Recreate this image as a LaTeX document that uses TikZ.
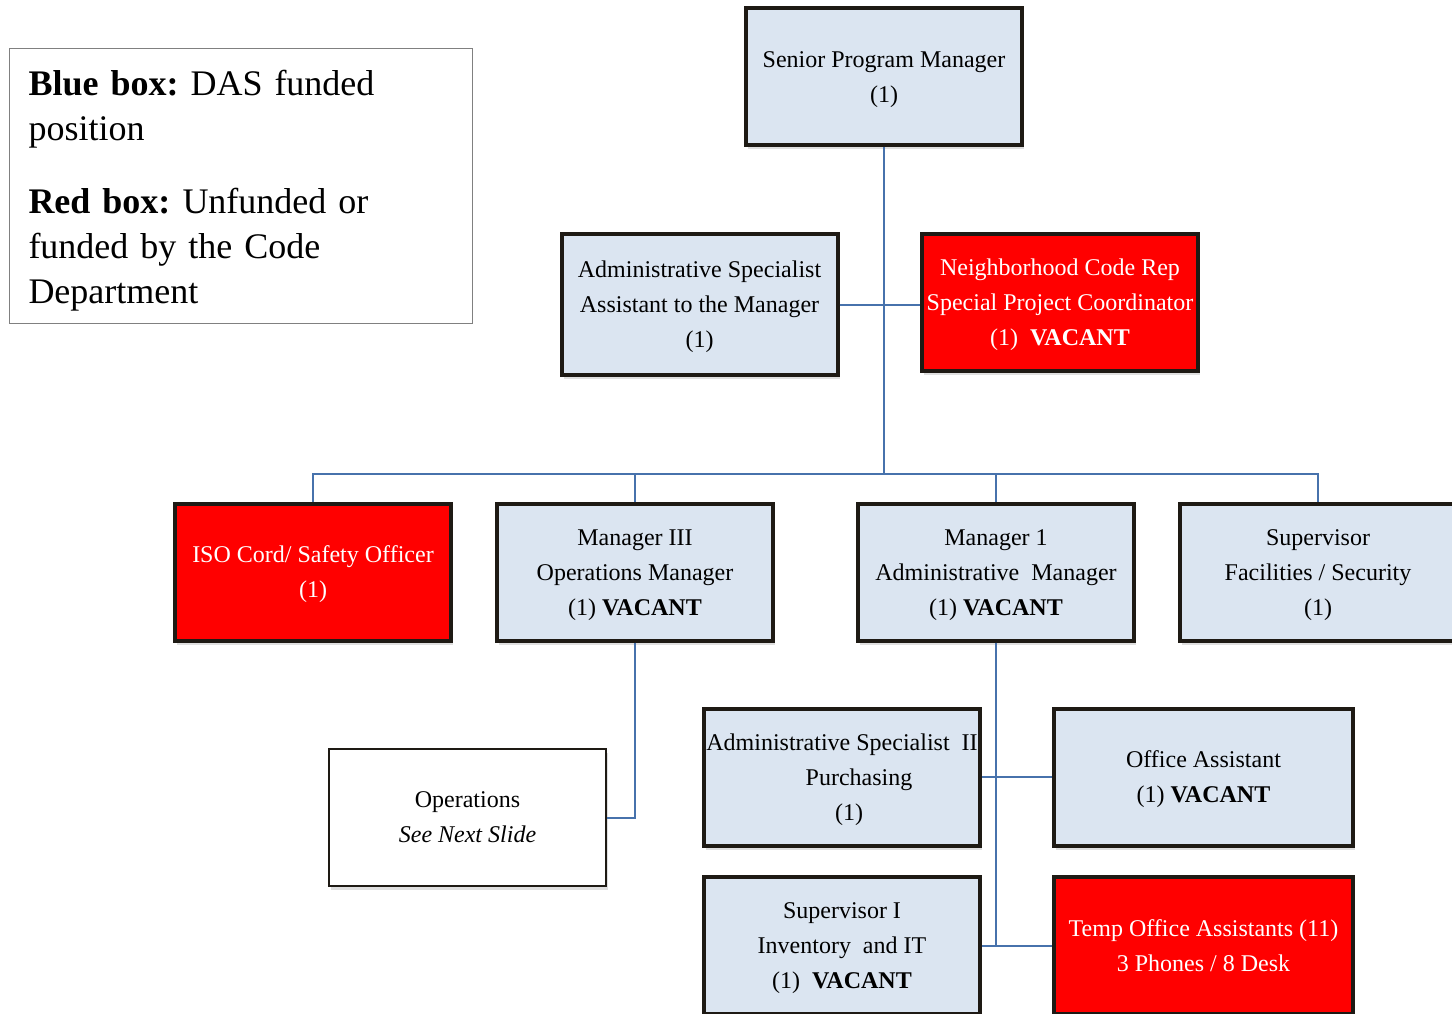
\documentclass[tikz,border=0pt]{standalone}
\usepackage{fontspec}
\setmainfont{Liberation Serif}
\usepackage{xcolor}
\usetikzlibrary{shadows}
\definecolor{boxblue}{HTML}{DBE5F1}
\definecolor{boxred}{HTML}{FF0000}
\definecolor{linkblue}{HTML}{4772AC}
\definecolor{boxline}{HTML}{1E1A14}
% a taller first line pushes the text down a little
\newcommand{\toppad}{\rule{0pt}{22pt}}
\tikzset{
    boxnode/.style = {align=center, inner sep=0pt, text centered, rectangle, font=\fontsize{24}{35}\selectfont\frenchspacing},
    blue_node/.style = {boxnode, draw=boxline, fill=boxblue, line width=4pt, minimum width=276pt, minimum height=137pt,
                        drop shadow={shadow xshift=2pt, shadow yshift=-4pt, opacity=0.25}},
    red_node/.style = {blue_node, fill=boxred, text=white},
    white_node/.style = {boxnode, draw=boxline, fill=white, line width=1.6pt, minimum width=277pt, minimum height=137pt,
                        drop shadow={shadow xshift=2pt, shadow yshift=-4pt, opacity=0.25}},
    legend/.style = {boxnode, draw=gray, line width=1.5pt, minimum width=463pt, minimum height=275pt,
                     text width=425pt, align=left, font=\fontsize{36}{45}\selectfont\frenchspacing},
    link/.style = {draw=linkblue, line width=2pt}
}

\begin{document}
\begin{tikzpicture}[x=1pt, y=-1pt]
    \useasboundingbox (0,0) rectangle (1452,1013);

    % legend
    \node [legend] (key) at (241,186)
        {\rule{0pt}{35pt}\textbf{Blue box:} DAS funded\\ position\\[28pt]
         \textbf{Red box:} Unfunded or\\ funded by the Code\\ Department};

    % top
    \node [blue_node] (spm) at (884,76.5) {\toppad Senior Program Manager\\ (1)};
    \node [blue_node, minimum height=141pt] (asst) at (699.5,304.5)
        {\toppad Administrative Specialist\\ Assistant to the Manager\\ (1)};
    \node [red_node] (ncr) at (1060,302)
        {\toppad Neighborhood Code Rep\\ Special Project Coordinator\\ (1)\enspace\textbf{VACANT}};

    % second row
    \node [red_node] (iso) at (313,572) {\toppad ISO Cord/ Safety Officer\\ (1)};
    \node [blue_node] (mgr3) at (635,572) {\toppad Manager III\\ Operations Manager\\ (1) \textbf{VACANT}};
    \node [blue_node] (mgr1) at (996,572) {\toppad Manager 1\\ Administrative\enspace Manager\\ (1) \textbf{VACANT}};
    \node [blue_node] (sup) at (1318,572) {\toppad Supervisor\\ Facilities / Security\\ (1)};

    % lower rows
    \node [white_node] (ops) at (467.5,817.5) {Operations\\ \textit{See Next Slide}};
    \node [blue_node] (asp2) at (842,777)
        {\toppad Administrative Specialist\enspace II\\ \hspace*{34pt}Purchasing\\ \hspace*{14pt}(1)};
    \node [blue_node, minimum width=299pt] (oa) at (1203.5,777) {\toppad Office Assistant\\ (1) \textbf{VACANT}};
    \node [blue_node] (sup1) at (842,945.5) {\toppad Supervisor I\\ Inventory\enspace and IT\\ (1)\enspace\textbf{VACANT}};
    \node [red_node, minimum width=299pt] (temp) at (1203.5,945.5) {Temp Office Assistants (11)\\ 3 Phones / 8 Desk};

    % connectors
    \coordinate (bus) at (884,474);
    \draw [link] (spm.south) -- (bus);
    \draw [link] (asst.east) -- (asst.east -| ncr.west);
    \draw [link] (iso.north) |- (bus) -| (sup.north);
    \draw [link] (mgr3.north) -- (mgr3.north |- bus);
    \draw [link] (mgr1.north) -- (mgr1.north |- bus);
    \draw [link] (mgr3.south) |- (ops.east);
    \draw [link] (mgr1.south) -- (mgr1.south |- temp.west);
    \draw [link] (asp2.east) -- (oa.west);
    \draw [link] (sup1.east) -- (temp.west);
\end{tikzpicture}
\end{document}
